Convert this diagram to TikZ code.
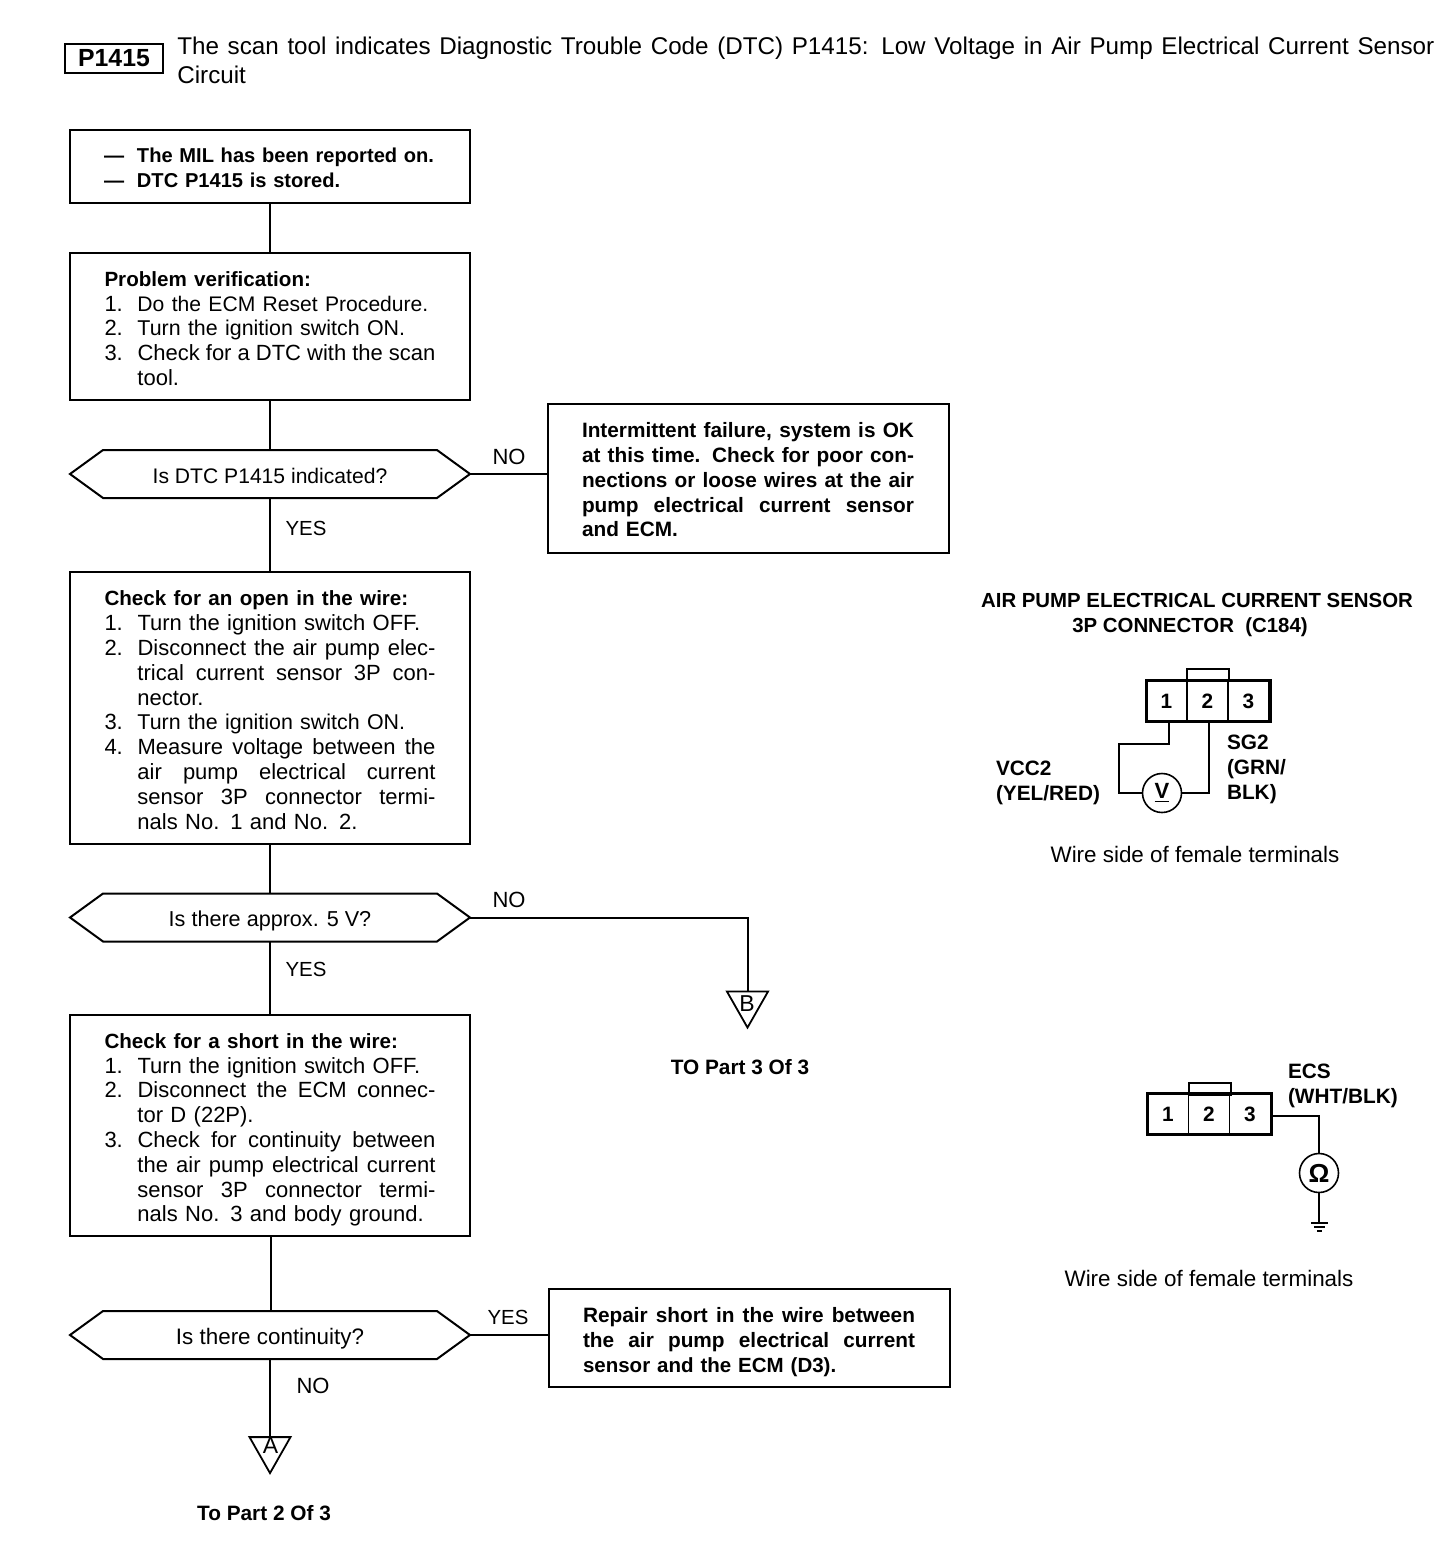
\documentclass[tikz,border=0pt]{standalone}
\usepackage{fontspec}
\setmainfont{Liberation Sans}
\usetikzlibrary{shapes.symbols,shapes.geometric}
\newcommand\myLn[2]{\makebox[16.5pt][l]{#1}\mbox{#2}}
\newcommand\myJs[1]{\makebox[149pt][s]{\spaceskip=0pt\xspaceskip=0pt #1}}
\newcommand\myLJ[2]{\makebox[16.5pt][l]{#1}\myJs{#2}}
\newcommand\myInd[1]{\hspace*{16.5pt}#1}
\newcommand\myIJ[1]{\hspace*{16.5pt}\myJs{#1}}
\newcommand\myRj[1]{\makebox[166pt][s]{\spaceskip=0pt\xspaceskip=0pt #1}}
\newcommand\myUp[1]{\rule{0pt}{#1}}
\newcommand\myFs[1]{\fontsize{#1}{12.4}\selectfont}
\tikzset{
  x=0.5pt,y=-0.5pt,
  base/.style={font=\fontsize{11}{12.4}\selectfont},
  boldf/.style={font=\bfseries\fontsize{10.4}{12.4}\selectfont},
  flowbox/.style={base,draw,line width=1pt,rectangle,inner xsep=17.25pt,inner ysep=0pt,outer sep=0pt,text width=165.5pt,align=left,minimum width=200pt},
  sidebox/.style={flowbox,boldf,inner xsep=17pt,text width=166.5pt},
  choice/.style={base,draw,line width=1pt,signal,signal to=east and west,signal pointer angle=72,minimum width=200pt,minimum height=24pt,inner sep=0pt,outer sep=0pt,text height=9pt,text depth=0pt},
  wire/.style={line width=1pt},
  thinwire/.style={line width=0.8pt},
  lab/.style={base,inner sep=0pt,outer sep=0pt},
  blab/.style={lab,boldf},
  offpage/.style={draw,line width=0.9pt,isosceles triangle,isosceles triangle apex angle=60,isosceles triangle stretches,shape border rotate=-90,minimum width=20.5pt,minimum height=18pt,inner sep=0pt,outer sep=0pt},
  offlet/.style={lab,font=\fontsize{11.5}{12}\selectfont},
  pin/.style={draw,line width=0.6pt,rectangle,minimum width=20.5pt,minimum height=20pt,inner sep=0pt,outer sep=0pt,font=\bfseries\fontsize{10.4}{12}\selectfont},
  shell/.style={draw,line width=1.5pt,rectangle,minimum width=62pt,minimum height=20.5pt,inner sep=0pt,outer sep=0pt},
  keytab/.style={draw,line width=1pt,rectangle,minimum width=21pt,minimum height=6pt,inner sep=0pt,outer sep=0pt},
  meter/.style={draw,line width=0.8pt,circle,minimum size=19.5pt,inner sep=0pt,outer sep=0pt,font=\bfseries\fontsize{11}{12}\selectfont},
}
\begin{document}
\begin{tikzpicture}
\useasboundingbox[fill=white] (0,0) rectangle (1456,1542);
% title
\node[draw,line width=1.3pt,rectangle,minimum width=49pt,minimum height=14.5pt,inner sep=0pt,outer sep=0pt,font=\bfseries\fontsize{12.4}{14}\selectfont] (code) at (114,58.5) {P1415};
\node[base,anchor=north west,inner sep=0pt,font=\fontsize{12.1}{14.1}\selectfont,align=left] (title) at (177,37) {\makebox[628.5pt][s]{The scan tool indicates Diagnostic Trouble Code (DTC) P1415: Low Voltage in Air Pump Electrical Current Sensor}\\Circuit};
% flow
\node[flowbox,minimum height=36.5pt,font=\bfseries\fontsize{10.05}{12.4}\selectfont] (start) at (269.5,166.5) {\myUp{8.5pt}\makebox[165pt][l]{\myLn{\makebox[13pt][s]{---}}{The MIL has been reported on.}}\\\makebox[165pt][l]{\myLn{\makebox[13pt][s]{---}}{DTC P1415 is stored.}}};
\node[flowbox,minimum height=73.5pt] (verify) at (270,326.5) {\myUp{9.6pt}\textbf{\myFs{10.3}Problem verification:}\\\myLn{1.}{\myFs{10.55}Do the ECM Reset Procedure.}\\\myLn{2.}{\myFs{10.7}Turn the ignition switch ON.}\\\myLJ{3.}{Check for a DTC with the scan}\\\myInd{tool.}};
\node[choice,font=\fontsize{10.55}{12.4}\selectfont] (q1) at (270,474) {Is DTC P1415 indicated?};
\node[sidebox,minimum height=74.5pt] (intermit) at (748.5,478.5) {\myUp{8.8pt}\myRj{Intermittent failure, system is OK}\\\myRj{at this time. Check for poor con-}\\\myRj{nections or loose wires at the air}\\\myRj{pump electrical current sensor}\\and ECM.};
\node[flowbox,minimum height=136pt] (open) at (270,708) {\myUp{9.6pt}\textbf{\myFs{10.3}Check for an open in the wire:}\\\myLn{1.}{Turn the ignition switch OFF.}\\\myLJ{2.}{Disconnect the air pump elec-}\\\myIJ{trical current sensor 3P con-}\\\myInd{nector.}\\\myLn{3.}{\myFs{10.7}Turn the ignition switch ON.}\\\myLJ{4.}{Measure voltage between the}\\\myIJ{air pump electrical current}\\\myIJ{sensor 3P connector termi-}\\\myInd{nals No. 1 and No. 2.}};
\node[choice,font=\fontsize{10.8}{12.4}\selectfont] (q2) at (270,917.5) {Is there approx. 5 V?};
\node[flowbox,minimum height=110.5pt] (short) at (270,1125.5) {\myUp{11.8pt}\textbf{\myFs{10.3}Check for a short in the wire:}\\\myLn{1.}{Turn the ignition switch OFF.}\\\myLJ{2.}{Disconnect the ECM connec-}\\\myInd{tor D (22P).}\\\myLJ{3.}{Check for continuity between}\\\myIJ{the air pump electrical current}\\\myIJ{sensor 3P connector termi-}\\\myInd{nals No. 3 and body ground.}};
\node[choice,font=\fontsize{11.2}{12.4}\selectfont] (q3) at (270,1335) {Is there continuity?};
\node[sidebox,minimum height=49pt,minimum width=200.5pt] (repair) at (749.5,1338) {\myUp{11.6pt}\myRj{Repair short in the wire between}\\\myRj{the air pump electrical current}\\\mbox{\myFs{10.25}sensor and the ECM (D3).}};
\node[offpage] (tb) at (747.5,1003.5) {};
\node[offlet] (tbl) at (747,1003.5) {B};
\node[offpage] (ta) at (270,1449) {};
\node[offlet] (tal) at (270.5,1446) {A};
\node[blab] (tp3) at (740,1067) {TO Part 3 Of 3};
\node[blab] (tp2) at (264,1513) {To Part 2 Of 3};
\node[lab] (n1) at (509,457) {NO};
\node[lab,font=\fontsize{10.2}{12}\selectfont] (y1) at (306,528) {YES};
\node[lab] (n2) at (509,900) {NO};
\node[lab,font=\fontsize{10.2}{12}\selectfont] (y2) at (306,969) {YES};
\node[lab,font=\fontsize{10.2}{12}\selectfont] (y3) at (508,1317) {YES};
\node[lab] (n3) at (313,1386) {NO};
\draw[wire] (start.south -| verify.north) -- (verify.north);
\draw[wire] (verify.south) -- (q1.north);
\draw[wire] (q1.south) -- (open.north);
\draw[wire] (q1.east) -- (intermit.west |- q1.east);
\draw[wire] (open.south) -- (q2.north);
\draw[wire] (q2.south) -- (short.north);
\draw[wire] (q2.east) -| (tb.north);
\draw[wire] (short.south -| q3.north) ++(1,0) -- ++(0,75);
\draw[wire] (q3.east) -- (repair.west |- q3.east);
\draw[wire] (q3.south) -- (ta.north);
% connector 1
\node[blab,align=center,font=\bfseries\fontsize{10.2}{12.4}\selectfont] (h1) at (1197,615) {AIR PUMP ELECTRICAL CURRENT SENSOR\\\hspace*{-7pt}3P CONNECTOR\ \ (C184)};
\node[keytab] (k1) at (1208,675) {};
\node[pin] (a1) at (1166.5,701) {1};
\node[pin] (a2) at (1207.5,701) {2};
\node[pin] (a3) at (1248.5,701) {3};
\node[shell] (s1) at (1208,700.5) {};
\node[meter] (vm) at (1162,793) {\underline{V}};
\coordinate (w1a) at (1119,744);
\draw[thinwire] ([xshift=1.25pt]a1.south) |- (w1a) |- (vm.west);
\draw[thinwire] (vm.east) -| ([xshift=0.75pt]a2.south);
\node[blab,align=left,anchor=west] (vcc) at (996,782.5) {VCC2\\(YEL/RED)};
\node[blab,align=left,anchor=west] (sg) at (1227,769.5) {SG2\\(GRN/\\BLK)};
\node[lab,font=\fontsize{11.2}{12}\selectfont] (ws1) at (1195,854) {Wire side of female terminals};
% connector 2
\node[keytab] (k2) at (1209.5,1088.5) {};
\node[pin] (b1) at (1168,1114.5) {1};
\node[pin] (b2) at (1209,1114.5) {2};
\node[pin] (b3) at (1250,1114.5) {3};
\node[shell] (s2) at (1209.5,1114) {};
\node[meter] (om) at (1319,1173) {\fontsize{13}{13}\selectfont Ω};
\coordinate (gnd) at (1319,1223);
\draw[thinwire] (s2.east) ++(0,2) -| (om.north);
\draw[wire] (om.south) -- (gnd);
\draw[line width=0.8pt] (gnd) ++(-8,0) -- ++(17,0) (gnd) ++(-5,4) -- ++(11,0) (gnd) ++(-2,8) -- ++(5,0);
\node[blab,align=left,anchor=west] (ecs) at (1288,1086) {ECS\\(WHT/BLK)};
\node[lab,font=\fontsize{11.2}{12}\selectfont] (ws2) at (1209,1278) {Wire side of female terminals};
\end{tikzpicture}
\end{document}
